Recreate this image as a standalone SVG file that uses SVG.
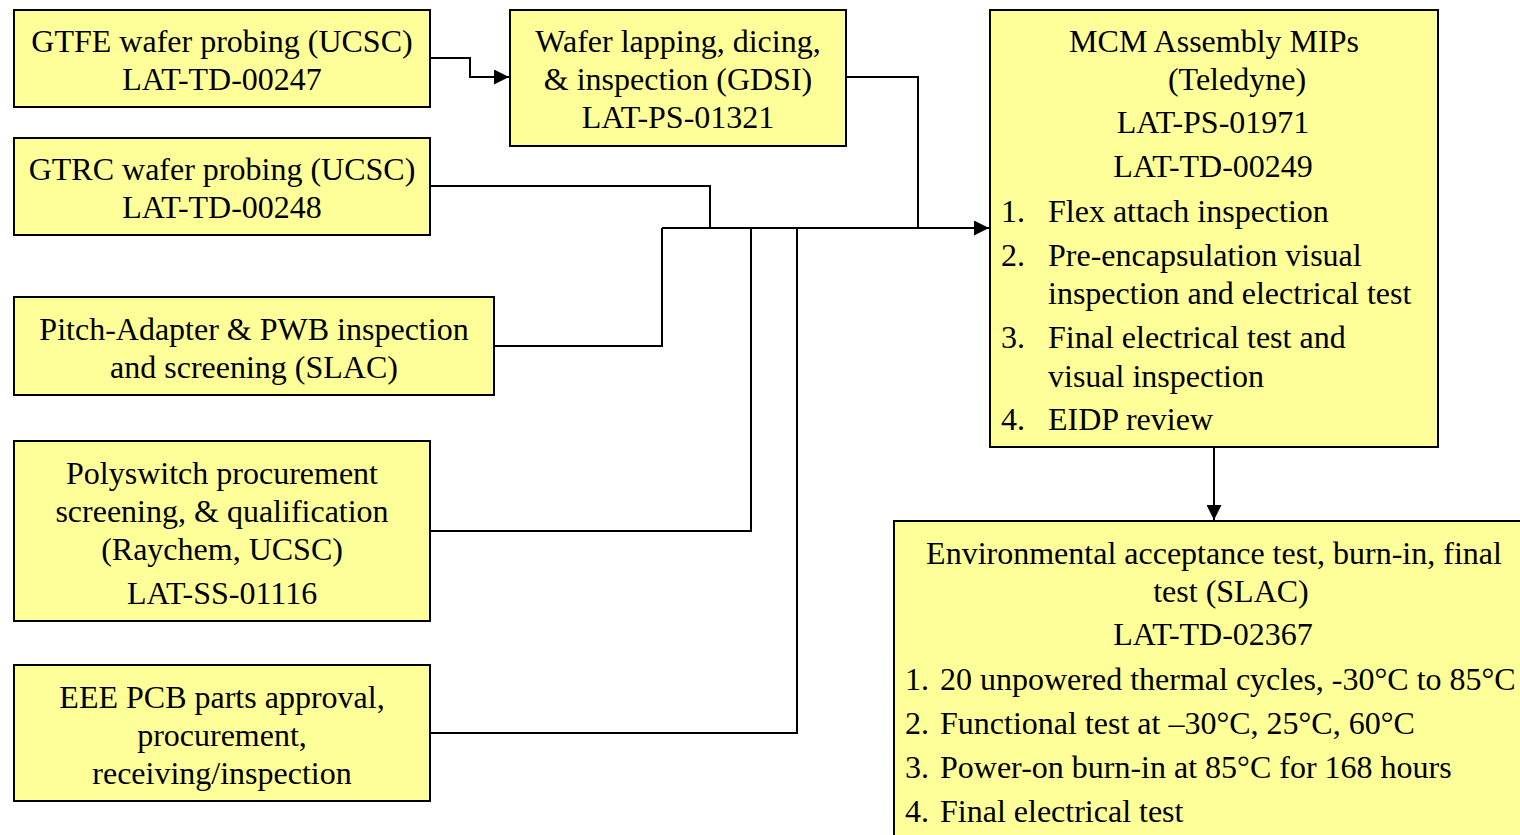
<svg xmlns="http://www.w3.org/2000/svg" width="1520" height="835" viewBox="0 0 1520 835">
<defs>
<style>
.box{fill:#FFFF99;stroke:#000;stroke-width:2}
text{font-family:"Liberation Serif","Times New Roman",serif;font-size:32px;fill:#000}
.c{text-anchor:middle}
.ln{fill:none;stroke:#000;stroke-width:2}
</style>
<marker id="ah" viewBox="0 0 10 10" refX="10" refY="5" markerWidth="15" markerHeight="15" markerUnits="userSpaceOnUse" orient="auto"><path d="M0,0L10,5L0,10z" fill="#000"/></marker>
</defs>
<rect width="1520" height="835" fill="#fff"/>
<g id="gtfe"><rect class="box" x="14" y="10" width="416" height="97"/>
<text class="c" x="222" y="52">GTFE wafer probing (UCSC)</text>
<text class="c" x="222" y="90">LAT-TD-00247</text></g>
<g id="wafer"><rect class="box" x="510" y="10" width="336" height="136"/>
<text class="c" x="678" y="52">Wafer lapping, dicing,</text>
<text class="c" x="678" y="90">&amp; inspection (GDSI)</text>
<text class="c" x="678" y="128">LAT-PS-01321</text></g>
<g id="gtrc"><rect class="box" x="14" y="138" width="416" height="97"/>
<text class="c" x="222" y="180">GTRC wafer probing (UCSC)</text>
<text class="c" x="222" y="218">LAT-TD-00248</text></g>
<g id="pitch"><rect class="box" x="14" y="297" width="480" height="98"/>
<text class="c" x="254" y="340">Pitch-Adapter &amp; PWB inspection</text>
<text class="c" x="254" y="378">and screening (SLAC)</text></g>
<g id="poly"><rect class="box" x="14" y="441" width="416" height="180"/>
<text class="c" x="222" y="484">Polyswitch procurement</text>
<text class="c" x="222" y="522">screening, &amp; qualification</text>
<text class="c" x="222" y="560">(Raychem, UCSC)</text>
<text class="c" x="222" y="604">LAT-SS-01116</text></g>
<g id="eee"><rect class="box" x="14" y="665" width="416" height="136"/>
<text class="c" x="222" y="708">EEE PCB parts approval,</text>
<text class="c" x="222" y="746">procurement,</text>
<text class="c" x="222" y="784">receiving/inspection</text></g>
<g id="mcm"><rect class="box" x="990" y="10" width="448" height="437"/>
<text class="c" x="1214" y="52">MCM Assembly MIPs</text>
<text class="c" x="1237" y="90">(Teledyne)</text>
<text class="c" x="1213" y="133">LAT-PS-01971</text>
<text class="c" x="1213" y="177">LAT-TD-00249</text>
<text x="1001" y="222">1.</text><text x="1048" y="222">Flex attach inspection</text>
<text x="1001" y="266">2.</text><text x="1048" y="266">Pre-encapsulation visual</text>
<text x="1048" y="304">inspection and electrical test</text>
<text x="1001" y="348">3.</text><text x="1048" y="348">Final electrical test and</text>
<text x="1048" y="387">visual inspection</text>
<text x="1001" y="430">4.</text><text x="1048" y="430">EIDP review</text></g>
<g id="env"><rect class="box" x="894" y="521" width="640" height="330"/>
<text class="c" x="1214" y="564">Environmental acceptance test, burn-in, final</text>
<text class="c" x="1231" y="602">test (SLAC)</text>
<text class="c" x="1213" y="645">LAT-TD-02367</text>
<text x="905" y="690">1.</text><text x="940" y="690">20 unpowered thermal cycles, -30°C to 85°C</text>
<text x="905" y="734">2.</text><text x="940" y="734">Functional test at –30°C, 25°C, 60°C</text>
<text x="905" y="778">3.</text><text x="940" y="778">Power-on burn-in at 85°C for 168 hours</text>
<text x="905" y="822">4.</text><text x="940" y="822">Final electrical test</text></g>
<g id="connectors">
<path class="ln" d="M430,58H470V77H509" marker-end="url(#ah)"/>
<path class="ln" d="M846,77H918V228"/>
<path class="ln" d="M430,186H710V228"/>
<path class="ln" d="M494,346H662V228"/>
<path class="ln" d="M430,531H751V228"/>
<path class="ln" d="M430,733H797V228"/>
<path class="ln" d="M662,228H989" marker-end="url(#ah)"/>
<path class="ln" d="M797,228H918" stroke-width="3"/>
<path class="ln" d="M1214,447V520" marker-end="url(#ah)"/>
</g>
</svg>
